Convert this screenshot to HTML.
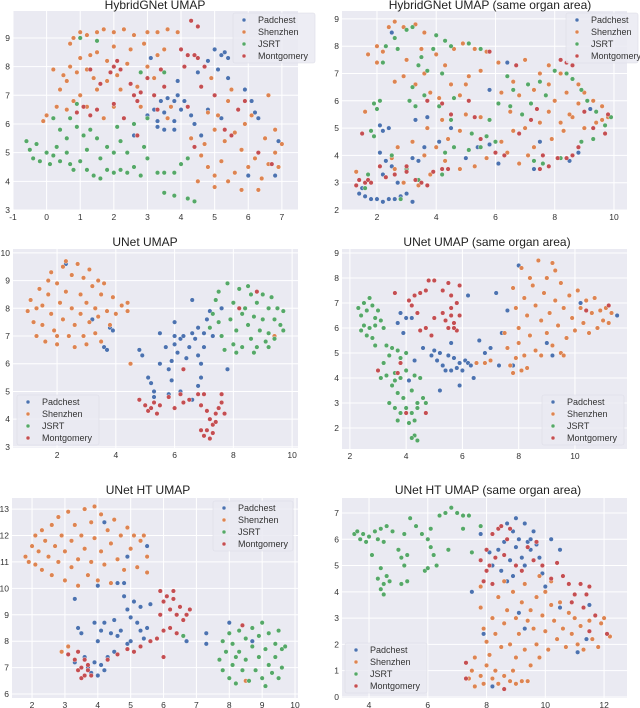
<!DOCTYPE html>
<html><head><meta charset="utf-8"><style>
html,body{margin:0;padding:0;background:#fff;}
svg{display:block;font-family:"Liberation Sans","DejaVu Sans",sans-serif;}
</style></head><body>
<svg id="chart" width="640" height="708" viewBox="0 0 640 708" xmlns="http://www.w3.org/2000/svg"></svg>
<script>
const categories = ["Padchest","Shenzhen","JSRT","Montgomery"];
const colors = ["#4C72B0","#DD8452","#55A868","#C44E52"];
const panelTitles = ["HybridGNet UMAP","HybridGNet UMAP (same organ area)","UNet UMAP","UNet UMAP (same organ area)","UNet HT UMAP","UNet HT UMAP (same organ area)"];
const xTicks1=[-1,0,1,2,3,4,5,6,7], yTicks1=[3,4,5,6,7,8,9];
const xTicks2=[2,4,6,8,10], yTicks2=[2,3,4,5,6,7,8,9];
const xTicks3=[2,4,6,8,10], yTicks3=[3,4,5,6,7,8,9,10];
const xTicks4=[2,4,6,8,10], yTicks4=[2,3,4,5,6,7,8,9];
const xTicks5=[2,3,4,5,6,7,8,9,10], yTicks5=[6,7,8,9,10,11,12,13];
const xTicks6=[4,6,8,10,12], yTicks6=[0,1,2,3,4,5,6,7];

const p1Padchest=[[3.0,6.3],[3.2,6.5],[3.3,6.1],[3.4,6.8],[3.5,6.4],[3.6,6.9],[3.7,6.6],[3.8,6.8],[3.9,7.0],[4.0,6.5],[3.8,6.1],[4.1,6.8],[3.3,5.9],[3.5,5.8],[4.3,6.3],[4.4,6.0],[4.6,5.6],[4.8,6.5],[5.0,8.6],[5.2,8.4],[5.3,8.5],[5.4,8.3],[4.8,8.2],[5.1,7.9],[5.4,7.6],[5.2,6.2],[5.9,7.2],[6.1,6.8],[6.2,6.4],[6.3,6.2],[3.8,5.8],[2.6,5.6],[3.9,7.5],[4.5,7.8],[6.8,4.2],[6.9,5.4],[6.0,4.2],[3.1,8.3]];
const p1Shenzhen=[[0.7,8.8],[0.8,9.0],[1.0,9.2],[1.2,9.1],[1.5,9.2],[1.7,9.3],[2.0,9.2],[2.3,9.3],[2.6,9.1],[3.0,9.2],[3.3,9.2],[3.6,9.3],[3.9,9.2],[2.9,8.8],[2.5,8.6],[2.0,8.7],[1.5,8.5],[1.0,8.3],[0.7,8.0],[0.5,7.7],[0.2,7.9],[0.4,7.2],[0.6,7.5],[0.9,7.8],[1.2,7.9],[1.4,7.6],[1.8,7.5],[2.1,7.7],[1.0,7.0],[0.8,6.8],[0.6,6.5],[0.3,6.6],[0.0,6.3],[-0.1,6.1],[1.2,6.6],[1.5,7.2],[2.2,7.2],[2.7,7.3],[3.0,8.0],[3.3,8.4],[3.5,8.6],[3.2,7.6],[2.4,8.1],[1.8,8.2],[1.3,8.4],[2.8,6.6],[2.0,6.6],[1.7,6.2],[3.7,6.6],[3.6,6.2],[4.3,5.5],[4.6,4.9],[4.8,4.5],[5.0,4.2],[5.2,4.7],[5.4,4.0],[5.6,4.3],[5.8,3.7],[6.0,4.5],[6.2,4.8],[6.4,4.1],[6.6,4.6],[6.8,5.0],[7.0,5.3],[6.9,4.5],[5.3,5.4],[5.6,5.7],[5.9,6.0],[6.1,6.3],[5.4,6.8],[5.1,6.3],[4.8,6.4],[5.0,5.8],[6.5,5.5],[6.8,5.8],[4.5,4.0],[5.0,3.8],[6.3,3.7],[5.8,5.1],[4.7,5.3],[5.5,7.2],[4.9,7.6],[6.6,7.0]];
const p1JSRT=[[-0.6,5.4],[-0.5,5.1],[-0.4,4.8],[-0.3,5.3],[-0.2,4.7],[0.0,5.0],[0.1,4.6],[0.2,4.9],[0.3,5.2],[0.4,4.7],[0.6,5.0],[0.7,4.6],[0.8,4.4],[1.0,4.7],[1.2,4.4],[1.4,4.2],[1.6,4.1],[1.8,4.4],[2.0,4.3],[2.2,4.4],[2.4,4.3],[2.6,4.5],[2.8,4.2],[3.0,4.8],[3.3,4.3],[3.5,4.3],[3.8,4.3],[4.0,4.6],[4.2,4.8],[3.5,3.6],[3.8,3.5],[4.2,3.4],[4.4,3.3],[0.2,6.2],[0.4,5.8],[0.6,5.5],[0.9,5.9],[1.1,5.6],[1.3,5.8],[1.5,5.5],[1.8,5.2],[2.0,5.0],[2.2,5.4],[2.4,5.0],[1.6,4.8],[1.2,5.1],[2.7,5.6],[2.9,5.2],[2.6,6.0],[3.0,6.2],[2.1,5.9],[0.7,6.2],[2.8,7.8],[3.5,7.8],[1.0,9.0],[1.5,8.9],[0.9,6.7]];
const p1Montgomery=[[0.9,6.4],[1.1,6.6],[1.3,7.9],[1.6,7.4],[1.9,7.8],[2.0,8.0],[2.2,7.9],[2.1,8.2],[2.5,7.4],[2.6,7.0],[2.7,6.8],[2.8,7.1],[3.0,7.6],[3.2,7.0],[3.3,6.5],[3.5,7.3],[2.3,6.2],[2.0,6.7],[1.5,6.5],[4.0,8.6],[4.2,8.4],[4.4,8.4],[4.1,8.0],[4.5,8.3],[4.7,8.0],[4.3,9.6],[4.5,9.4],[4.6,7.3],[4.2,6.6],[5.3,5.8],[5.5,5.6],[5.7,6.5],[5.9,6.8],[4.4,5.2],[2.7,5.6],[3.4,7.9],[1.3,6.3],[5.0,7.0],[6.7,4.6],[6.3,5.0]];

const p2Padchest=[[1.4,2.6],[1.6,2.5],[1.8,2.4],[2.0,2.4],[2.2,2.3],[2.4,2.4],[2.6,2.4],[2.8,2.5],[3.0,2.6],[3.2,2.3],[1.5,2.8],[2.1,5.1],[2.2,4.9],[2.4,5.0],[2.1,4.1],[2.3,3.8],[2.5,3.6],[2.2,3.3],[2.7,3.0],[3.0,3.4],[3.2,3.9],[3.4,3.8],[3.6,4.3],[3.7,5.4],[3.3,5.3],[2.5,8.5],[5.0,3.9],[5.4,4.3],[5.8,4.4],[6.1,3.7],[6.4,7.4],[5.8,6.4],[7.5,4.5],[7.3,3.5],[8.5,3.8],[9.2,5.7],[8.8,4.1],[4.1,4.5],[4.5,5.0]];
const p2Shenzhen=[[1.3,3.4],[1.6,5.6],[1.7,7.7],[2.0,7.4],[2.0,8.0],[2.2,7.8],[2.4,8.7],[2.6,8.9],[2.9,8.7],[3.3,8.8],[3.6,8.5],[3.5,7.9],[3.0,7.5],[2.6,6.7],[2.9,6.9],[3.3,6.6],[3.6,7.0],[4.0,7.7],[4.3,7.3],[4.6,7.9],[4.9,8.1],[5.3,7.9],[5.7,7.8],[4.5,6.6],[4.8,6.2],[5.1,6.9],[5.5,7.1],[4.1,6.1],[3.8,6.3],[5.0,5.5],[5.5,5.4],[4.8,4.9],[4.4,4.6],[4.0,4.3],[3.6,4.0],[3.2,4.5],[2.7,4.3],[2.5,3.9],[2.3,3.2],[2.9,3.0],[3.4,2.9],[3.8,3.3],[4.3,3.8],[4.8,3.5],[5.3,3.6],[5.7,3.9],[6.2,4.5],[6.6,4.9],[7.0,5.0],[7.3,4.3],[6.5,5.6],[6.2,6.3],[6.6,6.7],[7.0,7.5],[7.5,7.0],[7.8,7.3],[8.2,7.0],[6.1,7.4],[6.8,6.2],[7.3,6.4],[7.8,6.6],[8.0,6.0],[8.4,6.3],[8.8,6.6],[9.0,6.3],[9.3,6.0],[9.6,5.8],[9.8,5.4],[9.4,5.2],[9.0,5.0],[8.6,5.4],[8.2,5.2],[7.8,5.6],[7.5,5.2],[7.9,4.6],[8.3,4.9],[8.5,5.5],[7.1,4.0],[6.8,3.7],[6.4,4.1],[5.0,6.6],[4.2,5.3],[3.7,5.0],[2.6,3.5],[8.8,5.9],[9.6,5.3]];
const p2JSRT=[[1.6,2.8],[1.7,3.3],[1.8,4.9],[1.9,5.9],[2.0,5.7],[2.1,6.0],[1.9,4.7],[2.2,7.4],[2.3,8.0],[2.6,8.3],[3.0,8.6],[3.2,8.7],[2.7,7.9],[3.5,7.6],[3.4,7.3],[3.2,6.5],[3.1,6.0],[3.3,5.8],[3.6,6.2],[3.7,7.1],[3.9,7.9],[4.0,8.4],[4.3,8.2],[4.5,8.0],[5.1,8.1],[5.5,7.9],[4.2,7.0],[4.6,6.1],[4.1,5.8],[4.5,5.3],[4.3,4.1],[4.6,4.3],[5.2,4.8],[5.7,4.7],[6.0,4.5],[5.8,5.3],[6.1,5.9],[6.5,5.8],[6.9,5.5],[7.2,5.9],[7.1,6.6],[7.5,6.7],[8.0,7.1],[8.4,7.0],[8.6,6.8],[8.9,6.4],[9.1,6.0],[9.4,5.6],[9.7,5.1],[9.9,5.4],[9.3,4.6],[8.9,4.5],[8.6,4.0],[8.2,3.9],[7.6,3.7],[7.3,3.8],[5.1,4.2],[3.0,3.5],[3.4,3.1],[2.8,2.4],[2.5,4.0],[6.4,6.9],[7.7,6.2],[6.6,6.4],[5.5,4.3],[4.2,3.3]];
const p2Montgomery=[[1.3,2.9],[1.4,3.1],[1.6,3.0],[1.7,3.1],[1.5,4.8],[1.8,3.0],[2.1,3.6],[2.3,3.2],[3.0,3.4],[3.3,3.1],[3.5,3.0],[3.7,2.9],[3.9,3.4],[4.2,3.5],[4.4,3.5],[3.7,6.0],[4.2,5.9],[4.5,5.5],[5.1,6.0],[5.3,5.4],[5.8,7.8],[5.5,4.6],[6.0,4.1],[6.3,4.0],[6.8,4.8],[6.7,7.3],[7.5,3.5],[7.8,3.6],[8.1,3.9],[8.4,3.9],[8.6,4.0],[8.8,4.3],[8.2,7.5],[8.4,7.4],[8.6,7.3],[9.0,5.6],[9.3,5.0],[9.7,4.8],[7.2,5.3],[7.4,5.7],[7.6,4.0],[9.8,5.5],[3.0,3.6],[2.6,3.3]];

const p3Padchest=[[2.3,9.6],[3.2,7.6],[3.3,8.0],[3.6,6.6],[3.7,6.5],[3.8,7.3],[3.9,7.2],[4.8,6.5],[4.9,6.3],[5.1,5.5],[5.2,5.3],[5.3,5.0],[5.3,4.8],[5.5,7.1],[5.5,6.0],[5.7,6.6],[5.8,5.8],[5.9,6.1],[6.0,6.7],[6.0,7.5],[6.1,6.4],[6.2,6.9],[6.3,7.0],[6.4,6.2],[6.5,6.6],[6.6,7.1],[6.6,8.3],[6.7,6.9],[6.8,7.3],[6.8,6.3],[6.9,6.0],[7.0,6.6],[7.1,7.6],[7.0,7.1],[7.2,7.9],[6.9,5.5],[7.3,7.0],[6.2,5.0],[5.8,4.9],[6.6,4.7],[6.8,5.2],[7.8,5.8],[7.6,8.0],[6.0,7.0],[5.9,5.4]];
const p3Shenzhen=[[1.0,7.9],[1.1,8.3],[1.2,7.5],[1.3,7.0],[1.4,8.7],[1.5,8.1],[1.5,7.4],[1.6,6.8],[1.7,9.0],[1.7,8.5],[1.8,7.8],[1.9,7.2],[2.0,8.9],[2.0,6.7],[2.1,8.2],[2.2,9.5],[2.2,7.6],[2.3,9.7],[2.3,8.6],[2.4,7.0],[2.5,9.2],[2.5,8.0],[2.6,7.4],[2.6,6.6],[2.7,9.6],[2.8,8.5],[2.8,7.8],[2.9,9.1],[2.9,7.0],[3.0,8.2],[3.0,6.7],[3.1,9.4],[3.1,7.5],[3.2,8.8],[3.3,8.0],[3.3,7.1],[3.4,9.0],[3.4,7.7],[3.5,8.5],[3.5,6.8],[3.6,8.9],[3.7,7.9],[3.8,7.4],[3.9,8.4],[4.0,7.8],[4.2,8.1],[4.4,7.9],[4.4,8.2],[4.5,6.0],[1.3,8.0],[2.0,7.0],[1.8,9.3],[9.4,7.0]];
const p3JSRT=[[7.2,7.3],[7.3,7.8],[7.4,8.3],[7.5,8.6],[7.6,7.0],[7.7,6.5],[7.8,8.9],[7.9,7.6],[8.0,8.2],[8.0,6.7],[8.1,7.2],[8.2,8.7],[8.3,7.8],[8.3,6.6],[8.4,8.0],[8.5,7.4],[8.6,8.5],[8.6,6.9],[8.7,7.7],[8.8,8.2],[8.8,6.6],[8.9,7.2],[9.0,8.5],[9.0,7.6],[9.1,6.8],[9.2,8.0],[9.2,7.1],[9.3,8.4],[9.4,7.6],[9.4,6.9],[9.5,8.0],[9.6,7.4],[9.7,7.9],[9.7,7.2],[8.5,8.8],[8.1,6.4],[7.5,7.5],[9.2,6.6],[8.7,6.4]];
const p3Montgomery=[[4.8,4.7],[5.0,4.5],[5.1,4.3],[5.2,4.4],[5.3,4.6],[5.4,4.2],[5.5,4.5],[5.8,4.8],[6.0,4.4],[6.2,4.9],[6.3,4.6],[6.5,4.7],[6.8,4.9],[6.9,4.5],[7.0,4.9],[7.1,4.3],[7.2,4.0],[7.3,3.8],[7.1,3.6],[7.0,3.4],[7.2,3.3],[7.3,3.5],[7.4,4.2],[7.5,4.4],[7.6,4.6],[7.7,4.2],[7.4,3.9],[6.9,3.6],[7.6,4.9],[6.3,5.8],[8.8,8.6],[8.2,8.0]];

const p4Padchest=[[3.8,6.6],[4.0,6.4],[4.2,6.4],[3.7,6.2],[3.9,5.8],[4.6,5.2],[4.9,4.9],[5.0,5.1],[5.1,4.7],[5.2,5.0],[5.3,4.5],[5.4,4.3],[5.5,4.9],[5.6,5.4],[5.7,4.8],[5.8,4.4],[5.9,4.6],[6.0,4.3],[6.1,4.7],[6.2,4.6],[6.3,4.5],[5.6,4.3],[5.2,3.5],[5.9,3.7],[6.4,4.0],[6.6,5.5],[6.8,5.0],[7.0,5.2],[7.2,7.4],[7.3,4.5],[6.2,7.3],[4.3,4.7],[4.1,3.9],[9.2,4.9],[9.0,5.4],[10.2,7.0],[8.0,8.5],[7.8,4.5],[7.6,6.7],[7.4,5.8],[11.5,6.5]];
const p4Shenzhen=[[7.5,5.8],[7.6,5.2],[7.7,4.5],[7.8,4.2],[7.9,4.8],[7.8,7.6],[7.9,6.8],[8.0,6.0],[8.0,5.4],[8.1,8.4],[8.2,7.2],[8.2,4.9],[8.3,6.5],[8.4,8.0],[8.4,5.7],[8.5,7.7],[8.6,6.9],[8.6,5.1],[8.7,8.7],[8.8,6.3],[8.8,4.9],[8.9,7.4],[9.0,8.0],[9.0,5.8],[9.1,6.6],[9.2,8.6],[9.2,5.3],[9.3,7.1],[9.4,6.1],[9.5,7.8],[9.5,5.0],[9.6,6.8],[9.7,5.6],[9.8,7.3],[9.9,6.4],[10.0,5.9],[10.1,7.5],[10.2,6.8],[10.3,6.2],[10.4,7.1],[10.5,5.8],[10.6,6.6],[10.7,7.2],[10.8,6.0],[10.9,6.7],[11.0,6.3],[11.1,6.8],[11.2,6.2],[11.3,6.6],[6.8,4.6],[6.5,4.6],[7.0,4.7],[8.3,4.4],[9.6,4.9],[8.1,4.3],[9.3,8.3]];
const p4JSRT=[[2.3,6.8],[2.4,6.5],[2.5,7.0],[2.6,6.7],[2.7,7.2],[2.8,6.9],[2.9,6.4],[3.0,6.7],[2.5,6.1],[2.7,6.0],[2.9,6.1],[3.1,6.3],[3.2,6.0],[2.4,5.9],[2.8,5.6],[2.9,5.3],[2.6,5.7],[3.3,5.3],[3.5,5.2],[3.7,5.1],[3.4,4.9],[3.8,4.8],[3.2,4.6],[3.0,4.3],[3.1,4.0],[3.3,4.1],[3.6,4.2],[3.8,4.0],[4.0,4.3],[4.3,4.1],[4.5,4.0],[3.5,3.7],[3.7,3.4],[3.9,3.2],[4.2,3.5],[4.4,3.0],[4.6,3.2],[3.4,3.0],[3.6,2.8],[3.8,2.6],[4.0,2.8],[4.2,2.6],[4.4,2.8],[4.3,2.3],[4.1,2.2],[3.7,2.3],[4.3,1.7],[4.4,1.5],[4.2,1.6],[4.7,3.0],[3.6,3.9],[4.0,5.0]];
const p4Montgomery=[[3.6,7.4],[4.1,7.1],[4.2,6.9],[4.3,7.3],[4.5,7.4],[4.7,7.5],[4.8,7.9],[5.0,7.9],[5.3,7.5],[5.5,7.8],[5.6,7.3],[5.9,7.7],[5.8,7.0],[5.6,6.8],[5.7,6.2],[5.5,6.0],[5.4,6.3],[5.8,5.9],[5.9,6.5],[5.3,6.6],[5.0,6.4],[4.7,6.0],[4.5,5.9],[4.9,5.7],[4.4,6.6],[5.7,6.0],[5.6,6.5],[11.2,6.9],[10.4,6.7],[4.7,2.6],[4.0,2.6],[3.7,4.2],[3.0,4.3],[3.8,4.6]];

const p5Padchest=[[3.3,7.2],[3.4,8.5],[3.5,8.3],[3.6,7.4],[3.7,7.0],[3.8,6.8],[3.9,7.2],[4.0,6.7],[4.1,7.1],[4.2,6.9],[4.3,7.4],[4.0,8.0],[4.1,8.4],[4.2,8.7],[4.4,8.3],[4.5,8.8],[4.6,8.2],[4.7,8.4],[4.8,9.7],[4.9,9.2],[5.0,8.9],[5.1,9.5],[5.2,8.7],[5.3,8.4],[5.4,8.1],[5.5,8.5],[5.6,9.4],[5.3,9.3],[4.6,10.2],[4.8,10.2],[4.0,10.1],[3.3,9.6],[4.9,7.9],[4.5,7.6],[3.9,8.7],[5.0,8.0],[5.5,11.6],[4.9,11.2],[4.2,12.5],[7.3,8.3],[7.3,7.9],[8.0,8.7],[6.7,8.0],[7.9,7.6],[8.7,8.0]];
const p5Shenzhen=[[1.8,11.2],[1.9,11.0],[2.0,11.6],[2.1,12.0],[2.1,10.9],[2.2,11.4],[2.3,12.2],[2.3,10.7],[2.4,11.8],[2.5,11.2],[2.6,12.4],[2.6,10.5],[2.7,11.6],[2.8,12.7],[2.8,11.0],[2.9,12.0],[3.0,10.3],[3.0,11.4],[3.1,12.9],[3.2,11.8],[3.2,10.8],[3.3,12.4],[3.4,11.1],[3.4,10.1],[3.5,12.0],[3.6,13.0],[3.6,11.5],[3.7,10.5],[3.8,12.5],[3.8,11.0],[3.9,13.1],[3.9,11.9],[4.0,10.3],[4.1,12.8],[4.1,11.4],[4.2,10.9],[4.3,12.2],[4.4,11.7],[4.4,10.2],[4.5,12.6],[4.6,11.1],[4.7,12.0],[4.8,10.7],[4.9,12.3],[5.0,11.5],[5.1,12.0],[5.2,10.8],[5.3,11.8],[5.4,12.0],[5.5,11.2],[5.5,10.6],[3.1,7.8],[2.9,7.6],[8.5,6.5]];
const p5JSRT=[[7.7,7.3],[7.8,8.0],[7.8,6.9],[7.9,7.6],[8.0,6.6],[8.0,8.3],[8.1,7.9],[8.1,7.1],[8.2,6.4],[8.3,8.4],[8.3,7.6],[8.4,6.9],[8.5,8.1],[8.5,7.3],[8.6,6.5],[8.7,8.5],[8.7,7.8],[8.8,6.9],[8.9,7.4],[8.9,8.2],[9.0,6.6],[9.0,8.7],[9.1,7.7],[9.2,7.1],[9.2,8.3],[9.3,6.8],[9.4,7.9],[9.4,7.4],[9.5,8.4],[9.5,6.6],[9.6,7.7],[9.6,7.0],[9.7,7.8],[8.2,7.4],[9.1,6.3],[6.6,8.2]];
const p5Montgomery=[[3.3,7.3],[3.4,6.9],[3.5,6.6],[3.5,7.0],[3.6,6.7],[3.6,7.3],[3.7,7.1],[3.8,6.7],[3.7,6.9],[3.4,7.6],[4.3,7.3],[4.6,7.5],[4.9,7.7],[5.1,7.6],[5.3,7.8],[5.6,8.0],[5.8,8.1],[5.9,9.9],[6.0,9.5],[6.1,9.7],[6.2,9.2],[6.3,9.6],[6.4,9.0],[6.5,9.3],[6.6,8.8],[6.7,9.0],[6.2,8.5],[6.4,8.3],[6.0,8.4],[5.9,9.0],[6.3,9.9],[6.8,9.2],[6.0,7.4],[3.1,7.5],[8.4,8.6]];

const p6Padchest=[[7.5,4.0],[7.8,6.2],[8.1,5.5],[8.2,5.0],[8.4,5.6],[8.5,4.8],[8.6,5.9],[8.7,6.6],[8.8,5.2],[8.9,6.3],[8.9,4.6],[9.0,6.8],[9.0,5.7],[9.1,6.0],[9.2,5.3],[9.3,6.6],[9.3,5.0],[9.4,5.9],[9.5,6.0],[9.5,5.6],[9.6,6.3],[9.7,5.8],[9.8,5.3],[9.9,4.7],[10.0,4.2],[10.2,6.0],[10.5,5.6],[9.1,3.2],[9.3,2.6],[10.5,3.4],[11.1,1.7],[11.5,3.5],[11.4,2.2],[7.9,2.4],[8.2,0.4],[8.7,4.4]];
const p6Shenzhen=[[7.8,3.4],[7.9,2.6],[8.0,2.1],[8.1,1.6],[8.2,3.0],[8.3,2.4],[8.4,3.8],[8.5,1.9],[8.6,4.4],[8.6,2.8],[8.7,3.3],[8.8,2.0],[8.9,4.0],[9.0,3.0],[9.0,1.5],[9.1,2.4],[9.2,3.6],[9.3,1.8],[9.3,4.3],[9.4,2.9],[9.5,3.3],[9.5,1.2],[9.6,2.6],[9.7,3.8],[9.7,2.0],[9.8,1.5],[9.9,3.1],[10.0,2.5],[10.0,4.0],[10.1,1.8],[10.2,3.5],[10.3,2.9],[10.4,2.2],[10.5,3.6],[10.6,2.6],[10.7,1.9],[10.8,3.2],[10.9,2.4],[11.0,3.0],[11.1,2.0],[11.2,2.7],[11.3,1.8],[11.5,2.9],[11.6,2.2],[11.8,1.9],[11.9,2.8],[12.0,3.0],[12.2,2.3],[7.6,1.5],[7.5,1.0],[7.4,0.7],[7.6,0.4],[7.8,0.8],[7.9,0.5],[8.0,1.2],[8.2,0.7],[8.4,0.5],[8.6,0.8],[8.8,0.6],[9.0,0.5],[9.2,0.6],[9.4,0.6],[8.3,1.0],[8.9,1.0],[7.8,4.2],[10.2,4.4],[9.8,4.6]];
const p6JSRT=[[3.5,6.2],[3.6,6.3],[3.7,6.0],[3.8,6.2],[3.9,5.9],[4.0,6.1],[4.1,5.4],[4.2,6.3],[4.3,6.0],[4.4,6.4],[4.5,5.9],[4.6,6.5],[4.8,6.3],[4.4,4.9],[4.5,4.3],[4.4,4.1],[4.5,3.9],[4.6,4.6],[4.3,4.5],[4.7,4.4],[5.0,5.6],[5.1,5.3],[5.2,5.0],[5.3,5.4],[5.1,4.3],[5.3,4.4],[5.2,6.2],[5.4,6.8],[5.6,6.5],[5.8,6.2],[5.9,4.8],[6.0,6.0],[6.1,6.4],[6.1,5.7],[6.2,5.4],[6.0,4.9],[6.3,5.0],[6.4,6.9],[6.6,7.0],[6.8,7.2],[7.0,7.0],[7.2,6.9],[7.4,6.9],[7.2,6.4],[7.5,5.5],[6.7,5.6],[7.8,6.5]];
const p6Montgomery=[[7.8,5.2],[7.9,4.4],[8.0,5.6],[8.1,5.0],[8.2,6.2],[8.3,5.3],[8.4,6.4],[8.5,6.5],[8.6,5.4],[8.7,6.0],[8.8,6.4],[9.0,5.0],[9.2,4.8],[9.4,5.7],[9.6,5.2],[9.7,5.9],[9.9,5.0],[10.2,4.5],[10.4,5.1],[10.6,4.6],[10.8,4.3],[11.0,3.9],[11.2,4.3],[11.4,3.9],[11.5,4.2],[11.3,3.4],[11.7,3.1],[11.5,2.5],[10.9,3.6],[12.1,2.4],[7.3,1.3],[7.3,0.7],[8.6,0.3],[8.2,4.3],[8.0,4.8]];

const NS="http://www.w3.org/2000/svg";
const svg=document.getElementById('chart');
function mk(tag,attrs,parent){const e=document.createElementNS(NS,tag);for(const k in attrs)e.setAttribute(k,attrs[k]);(parent||svg).appendChild(e);return e;}

const layout=[
 {box:[13,11,298,210],xd:[-1.0,7.48],yd:[3,9.94],xt:xTicks1,yt:yTicks1,title:[155,9],leg:[233,13,82,50],series:[p1Padchest,p1Shenzhen,p1JSRT,p1Montgomery]},
 {box:[342,11,627,210],xd:[0.82,10.44],yd:[2,9.29],xt:xTicks2,yt:yTicks2,title:[490,9],leg:[566,13,72,50],series:[p2Padchest,p2Shenzhen,p2JSRT,p2Montgomery]},
 {box:[13,249,298,448],xd:[0.5,10.2],yd:[2.96,10.14],xt:xTicks3,yt:yTicks3,title:[145,246],leg:[17,395,82,50],series:[p3Padchest,p3Shenzhen,p3JSRT,p3Montgomery]},
 {box:[342,249,627,449],xd:[1.72,11.85],yd:[1.16,9.16],xt:xTicks4,yt:yTicks4,title:[487,246],leg:[542,395,82,50],series:[p4Padchest,p4Shenzhen,p4JSRT,p4Montgomery]},
 {box:[12,498,298,698],xd:[1.39,10.09],yd:[5.85,13.42],xt:xTicks5,yt:yTicks5,title:[148,494],leg:[213,501,80,50],series:[p5Padchest,p5Shenzhen,p5JSRT,p5Montgomery]},
 {box:[342,498,627,698],xd:[3.08,12.78],yd:[-0.04,7.57],xt:xTicks6,yt:yTicks6,title:[488,494],leg:[345,643,82,50],series:[p6Padchest,p6Shenzhen,p6JSRT,p6Montgomery]}
];

layout.forEach((p,pi)=>{
  const [x0,y0,x1,y1]=p.box;
  const sx=v=>x0+(v-p.xd[0])/(p.xd[1]-p.xd[0])*(x1-x0);
  const sy=v=>y1-(v-p.yd[0])/(p.yd[1]-p.yd[0])*(y1-y0);
  const g=mk('g',{});
  
  
  const bg=mk('rect',{x:x0,y:y0,width:x1-x0,height:y1-y0,fill:'#EAEAF2'},g);
  
  
  p.xt.forEach(t=>{
    const X=sx(t);
    if(X>=x0-0.5&&X<=x1+0.5){const l=mk('line',{x1:X,x2:X,y1:y0,y2:y1,stroke:'#fff','stroke-width':1},g);
      
      }
    const tx=mk('text',{x:X,y:y1+10,'font-size':8.5,fill:'#333','text-anchor':'middle'},g);
    tx.textContent=t;
    
    
  });
  p.yt.forEach(t=>{
    const Y=sy(t);
    if(Y>=y0-0.5&&Y<=y1+0.5){const l=mk('line',{x1:x0,x2:x1,y1:Y,y2:Y,stroke:'#fff','stroke-width':1},g);
      
      }
    const ty=mk('text',{x:x0-3,y:Y+3,'font-size':8.5,fill:'#333','text-anchor':'end'},g);
    ty.textContent=t;
    
    
  });
  const tt=mk('text',{x:p.title[0],y:p.title[1],'font-size':12,fill:'#222','text-anchor':'middle'},g);
  tt.textContent=panelTitles[pi];
  
  
  p.series.forEach((pts,si)=>{
    const sg=mk('g',{},g);
    
    
    pts.forEach(d=>{
      const c=mk('circle',{cx:sx(d[0]),cy:sy(d[1]),r:2.3,fill:colors[si],stroke:'#fff','stroke-width':0.4},sg);
      
      
    });
  });
  const [lx,ly,lw,lh]=p.leg;
  const lg=mk('g',{},g);
  
  
  mk('rect',{x:lx,y:ly,width:lw,height:lh,fill:'#EAEAF2','fill-opacity':0.85,stroke:'#dcdce6','stroke-width':0.6,rx:2},lg);
  categories.forEach((c,ci)=>{
    const iy=ly+7+ci*12;
    const m=mk('circle',{cx:lx+11,cy:iy,r:2,fill:colors[ci],stroke:'#fff','stroke-width':0.4},lg);
    
    
    const t=mk('text',{x:lx+25,y:iy+3,'font-size':9,fill:'#333'},lg);
    t.textContent=c;
    
    
  });
});
</script>
</body></html>
